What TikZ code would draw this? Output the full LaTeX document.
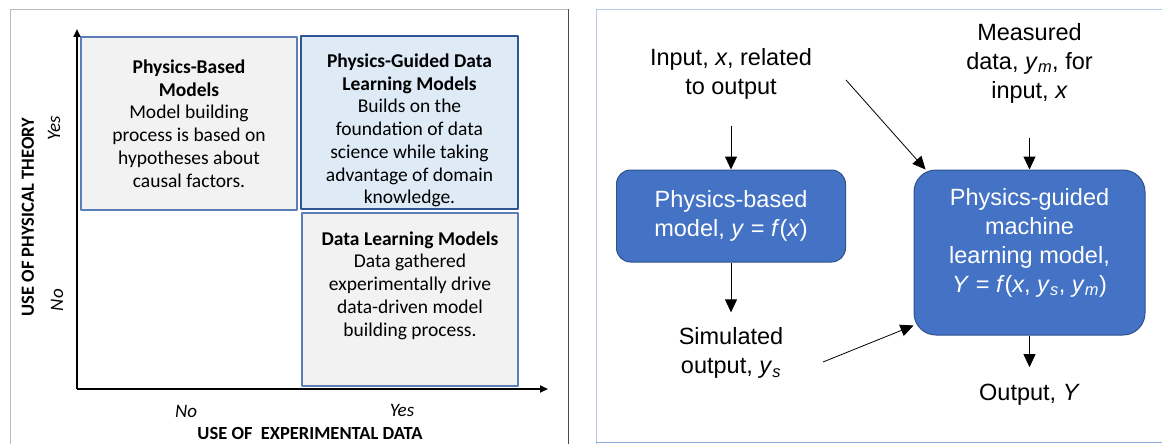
\documentclass[tikz,border=0pt]{standalone}
\usepackage{fontspec}
\usepackage{tikz}
\usetikzlibrary{arrows.meta}
\newfontfamily\calibrifont{Carlito}
\newfontfamily\arialfont{Liberation Sans}
\definecolor{boxgray}{HTML}{F2F2F2}
\definecolor{boxedge}{HTML}{5B7DB8}
\definecolor{pgfill}{HTML}{DEEBF7}
\definecolor{pgedge}{HTML}{2F5597}
\definecolor{modelblue}{HTML}{4472C4}
\definecolor{modeledge}{HTML}{2F528F}
\definecolor{panelline}{HTML}{B4C7E7}
\definecolor{panelbottom}{HTML}{8FAADC}

\begin{document}
\begin{tikzpicture}[x=1pt, y=-1pt, line join=round,
    quad/.style={draw=boxedge, line width=1.3pt, fill=boxgray, minimum width=216pt, minimum height=173pt, inner sep=0pt},
    quadtext/.style={align=center, font=\calibrifont\fontsize{19.5}{22.7}\selectfont, inner sep=0pt},
    axislabel/.style={font=\calibrifont\bfseries\fontsize{18.5}{22}\selectfont, inner sep=0pt},
    ticklabel/.style={font=\calibrifont\itshape\fontsize{19}{22}\selectfont, inner sep=0pt},
    model/.style={draw=modeledge, fill=modelblue, line width=1pt, inner sep=0pt},
    modeltext/.style={text=white, align=center, font=\arialfont\fontsize{23.5}{29}\selectfont, inner sep=0pt},
    plain/.style={align=center, font=\arialfont\fontsize{23.5}{29}\selectfont, inner sep=0pt},
    flow/.style={line width=1pt, -{Triangle[length=13pt, width=12pt]}},
    axis/.style={line width=2pt, -{Triangle[length=8pt, width=7pt]}}]
    \useasboundingbox (0,0) rectangle (1162,444);

    % Panel 1: the four quadrants
    \begin{scope}
        \draw[gray!55, line width=1pt] (10,446) -- (10,9.5) -- (568,9.5);
        \draw[black!70, line width=1pt] (568,9.5) -- (568,446);
        \node[quad] (pbbox) at (189,123.5) {};
        \node[quad, fill=pgfill, draw=pgedge, line width=1.8pt, minimum width=217pt] (pgbox) at (409.5,122.5) {};
        \node[quad] (dlbox) at (410,299.5) {};
        \node[quadtext] (pbtext) at (pbbox.center) {\textbf{Physics-Based}\\\textbf{Models}\\Model building\\process is based on\\hypotheses about\\causal factors.};
        \node[quadtext] (pgtext) at ([yshift=-8]pgbox.center) {\textbf{Physics-Guided Data}\\\textbf{Learning Models}\\Builds on the\\foundation of data\\science while taking\\advantage of domain\\knowledge.};
        \node[quadtext] (dltext) at ([yshift=14]dlbox.center) {\textbf{Data Learning Models}\\Data gathered\\experimentally drive\\data-driven model\\building process.};
        % Axes
        \coordinate (origin) at (77,389);
        \coordinate (ytip) at (77,29);
        \coordinate (xtip) at (548,389);
        \draw[axis] (origin) -- (ytip);
        \draw[axis] (origin) -- (xtip);
        \node[axislabel, rotate=90] (ylab) at (28,217) {USE OF PHYSICAL THEORY};
        \node[ticklabel, rotate=90] (yyes) at (54,128) {Yes};
        \node[ticklabel, rotate=90] (yno) at (57,300) {No};
        \node[ticklabel] (xno) at (186,411) {No};
        \node[ticklabel] (xyes) at (402,410) {Yes};
        \node[axislabel] (xlab) at (310,433) {USE OF~ EXPERIMENTAL DATA};
    \end{scope}

    % Panel 2: physics-based vs physics-guided model
    \begin{scope}
        \draw[panelline, line width=1pt] (596,446) -- (596,9.5) -- (1162,9.5);
        \draw[panelbottom, line width=1.2pt] (596,442.5) -- (1162,442.5);
        \node[model, rounded corners=14pt, minimum width=229pt, minimum height=92pt, text=white, align=center, font=\arialfont\fontsize{23.5}{29}\selectfont] (pbm) at (731,216) {Physics-based\\model, \textit{y} = \textit{f}(\textit{x})};
        \node[model, rounded corners=22pt, minimum width=231pt, minimum height=165pt] (pgm) at (1029.5,252.5) {};
        \node[modeltext] (pgmtext) at ([yshift=10]pgm.center) {Physics-guided\\machine\\learning model,\\\textit{Y} = \textit{f}(\textit{x}, \textit{y}\textsubscript{\textit{s}}, \textit{y}\textsubscript{\textit{m}})};
        \node[plain] (inp) at (731,74) {Input, \textit{x}, related\\to output};
        \node[plain] (meas) at (1029.5,63) {Measured\\data, \textit{y}\textsubscript{\textit{m}}, for\\input, \textit{x}};
        \node[plain] (sim) at (731,353) {Simulated\\output, \textit{y}\textsubscript{\textit{s}}};
        \node[plain] (outp) at (1029.5,395) {Output, \textit{Y}};
        \coordinate (intail) at (846,80);
        \coordinate (simtail) at (823,362);
        % Arrows
        \draw[flow, shorten <=26pt] (inp) -- (pbm);
        \draw[flow, shorten >=15pt] (pbm) -- (sim);
        \draw[flow, shorten <=35pt] (meas) -- (pgm);
        \draw[flow, shorten >=17pt] (pgm) -- (outp);
        \draw[flow, line width=0.8pt] (intail) -- ([xshift=12]pgm.north west);
        \draw[flow, line width=0.8pt] (simtail) -- ([yshift=10]pgm.south west);
    \end{scope}
\end{tikzpicture}
\end{document}
